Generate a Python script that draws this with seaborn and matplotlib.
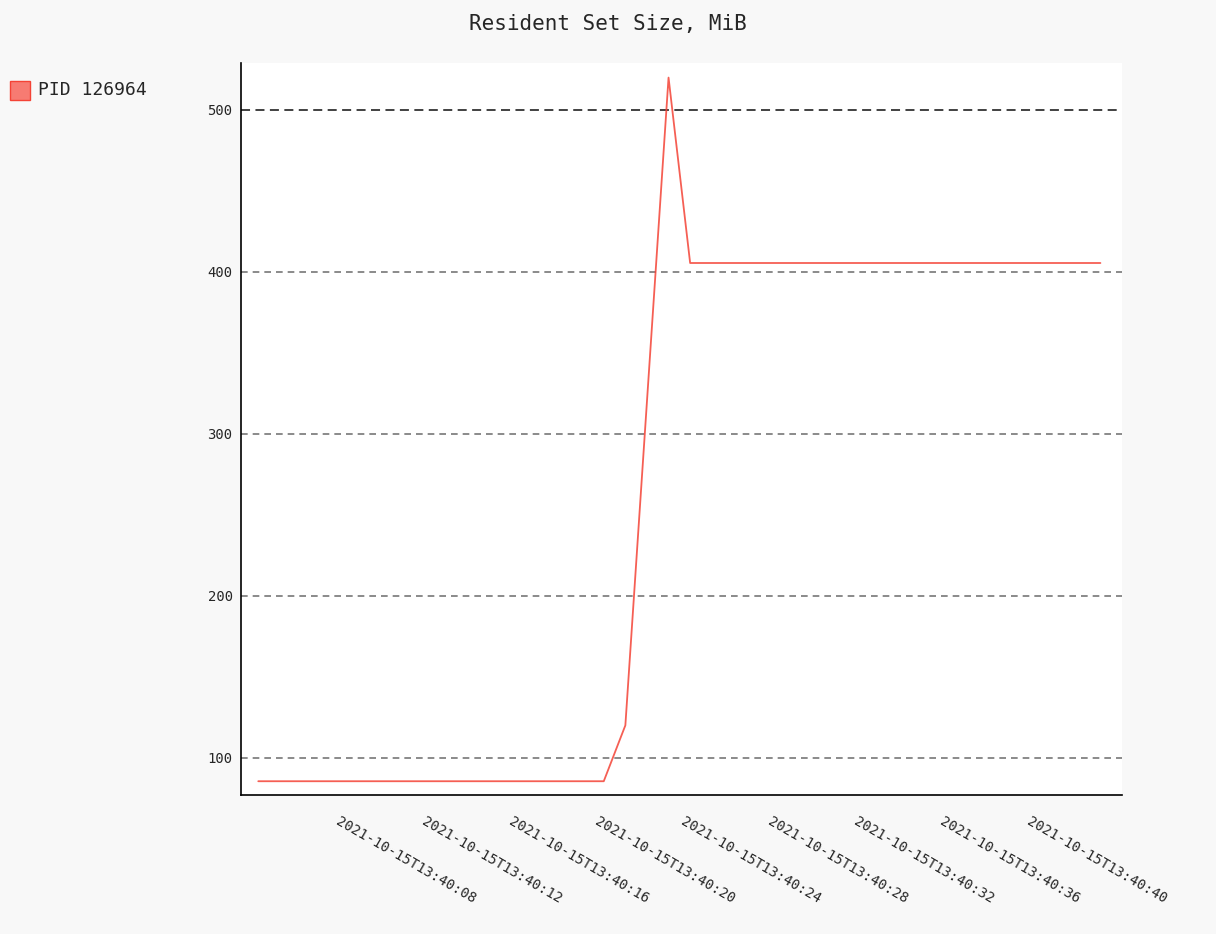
import matplotlib
matplotlib.use("Agg")
import matplotlib.pyplot as plt
import matplotlib.dates as mdates
import matplotlib.patches as mpatches
import seaborn as sns
import pandas as pd
import numpy as np

base = pd.Timestamp("2021-10-15T13:40:04.2")
offsets_s = list(range(0, 40))
rss = [85.5]*17 + [120, 320, 520] + [405.5]*20
tick_labels = ["2021-10-15T13:40:%02d" % s for s in range(8, 41, 4)]

df = pd.DataFrame({"t": [base + pd.Timedelta(seconds=o) for o in offsets_s], "rss": rss})

sns.set_style("white")
plt.rcParams['font.family'] = ['DejaVu Sans Mono']
fig = plt.figure(figsize=(12.16, 9.34), dpi=100, facecolor="#f8f8f8")
ax = fig.add_axes([241/1216, 1-795/934, (1122-241)/1216, (795-63)/934])
ax.set_facecolor("white")
sns.lineplot(data=df, x="t", y="rss", ax=ax, color="#F44336", alpha=0.85, linewidth=1.3)

ax.set_ylim(77, 529)
ax.set_xlim(base - pd.Timedelta(seconds=0.8), base + pd.Timedelta(seconds=40))
ax.set_yticks([100, 200, 300, 400, 500])
for y in [100, 200, 300, 400]:
    ax.axhline(y, color="#777777", ls=(0, (4, 3)), lw=1.2, zorder=0)
ax.axhline(500, color="#333333", ls=(0, (5, 3)), lw=1.3, zorder=0)
ticks = [pd.Timestamp(l) for l in tick_labels]
ax.set_xticks(ticks)
ax.set_xticklabels(tick_labels, rotation=-30, ha="left", va="top", rotation_mode="anchor")
ax.tick_params(axis="both", labelsize=10, length=0, pad=6)
ax.tick_params(axis="x", pad=14)
ax.set_xlabel(""); ax.set_ylabel("")
for s in ["top", "right"]:
    ax.spines[s].set_visible(False)
for s in ["left", "bottom"]:
    ax.spines[s].set_color("black"); ax.spines[s].set_linewidth(1.2)

fig.text(0.5, 1-24/934, "Resident Set Size, MiB", ha="center", va="center", fontsize=15)
fig.patches.append(mpatches.Rectangle((10/1216, 1-100/934), 20/1216, 19/934,
                   transform=fig.transFigure, facecolor="#F77B72", edgecolor="#F44336", lw=1))
fig.text(38/1216, 1-90/934, "PID 126964", ha="left", va="center", fontsize=13)
fig.savefig("out.png", dpi=100, facecolor=fig.get_facecolor())
